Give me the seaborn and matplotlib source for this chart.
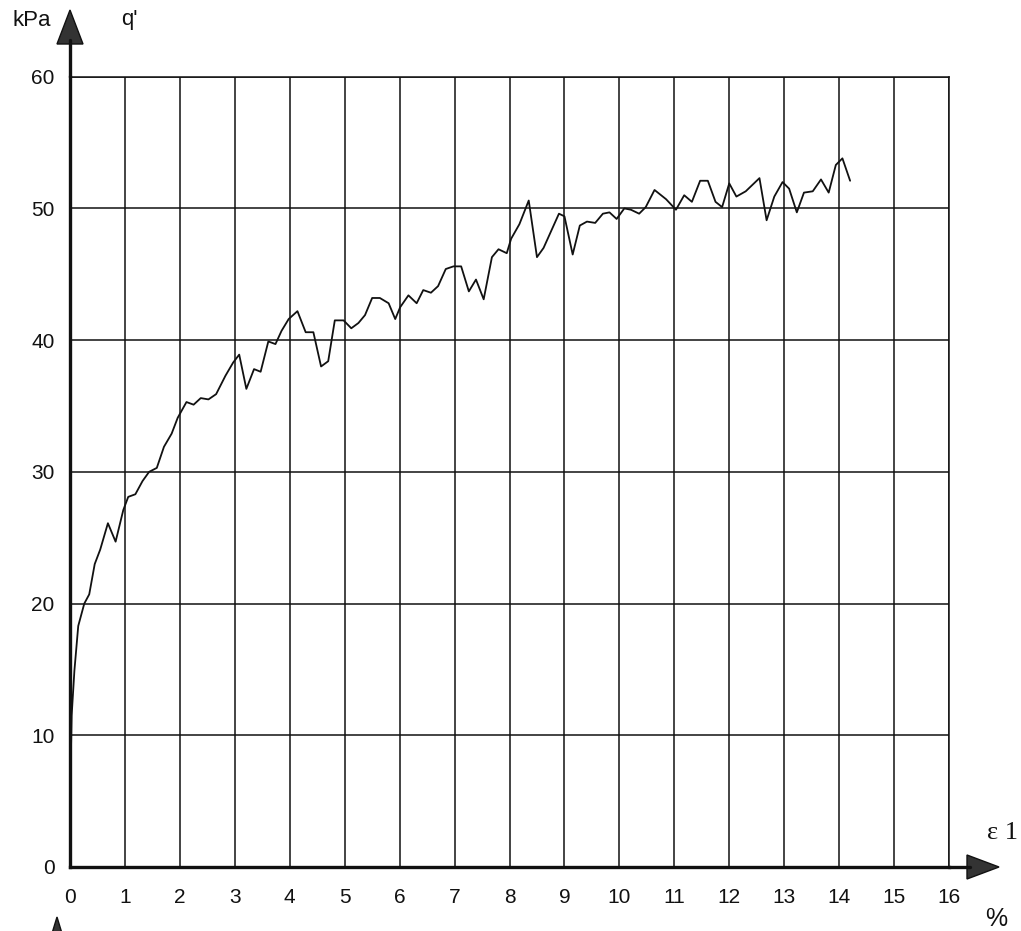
import numpy as np
import pandas as pd
import matplotlib
matplotlib.use('Agg')
import matplotlib.pyplot as plt
from matplotlib.patches import Polygon
import seaborn as sns

# strain (%) and deviator stress q' (kPa)
eps = [0, 0.03, 0.08, 0.15, 0.26, 0.35, 0.45, 0.55, 0.69, 0.83,
       0.97, 1.06, 1.19, 1.32, 1.44, 1.58, 1.71, 1.85, 1.96, 2.12,
       2.25, 2.38, 2.52, 2.66,
       2.83, 2.97, 3.08, 3.21, 3.35, 3.47, 3.61, 3.74, 3.85, 3.98,
       4.14, 4.29, 4.43, 4.57, 4.70, 4.82, 4.98, 5.12, 5.25, 5.37,
       5.50, 5.64, 5.80, 5.92, 6.01, 6.16, 6.31, 6.43, 6.57, 6.70,
       6.84, 6.98, 7.12, 7.26, 7.39, 7.53, 7.68, 7.80, 7.95, 8.03,
       8.18, 8.35, 8.50, 8.62, 8.76, 8.90, 9.00, 9.15, 9.28, 9.41,
       9.56, 9.70, 9.82, 9.95, 10.09, 10.21, 10.36, 10.48, 10.64, 10.85,
       11.03, 11.18, 11.32, 11.47, 11.61, 11.75, 11.87, 12.00, 12.13, 12.30,
       12.55, 12.68, 12.82, 12.97, 13.09, 13.23, 13.36, 13.52, 13.67, 13.81,
       13.94, 14.06, 14.20]
q = [5, 11.5, 14.9, 18.3, 20.0, 20.7, 23.0, 24.1, 26.1, 24.7,
     27.1, 28.1, 28.3, 29.3, 30.0, 30.3, 31.9, 32.9, 34.1, 35.3,
     35.1, 35.6, 35.5, 35.9,
     37.3, 38.3, 38.9, 36.3, 37.8, 37.6, 39.9, 39.7, 40.7, 41.6,
     42.2, 40.6, 40.6, 38.0, 38.4, 41.5, 41.5, 40.9, 41.3, 41.9,
     43.2, 43.2, 42.8, 41.6, 42.5, 43.4, 42.8, 43.8, 43.6, 44.1,
     45.4, 45.6, 45.6, 43.7, 44.6, 43.1, 46.3, 46.9, 46.6, 47.7,
     48.8, 50.6, 46.3, 47.0, 48.3, 49.6, 49.4, 46.5, 48.7, 49.0,
     48.9, 49.6, 49.7, 49.2, 50.0, 49.9, 49.6, 50.1, 51.4, 50.7,
     49.9, 51.0, 50.5, 52.1, 52.1, 50.5, 50.1, 51.9, 50.9, 51.3,
     52.3, 49.1, 50.9, 52.0, 51.5, 49.7, 51.2, 51.3, 52.2, 51.2,
     53.3, 53.8, 52.1]

x_ticks = list(range(0, 17))
y_ticks = list(range(0, 61, 10))

df = pd.DataFrame({'eps': eps, 'q': q})

sns.set_style('white')
plt.rcParams['font.family'] = ['Liberation Sans', 'DejaVu Sans']

W, H = 1021, 931
fig = plt.figure(figsize=(W / 100, H / 100), dpi=100)
x0, x1, y0, y1 = 70, 949, 867, 76.7
ax = fig.add_axes([x0 / W, 1 - y0 / H, (x1 - x0) / W, (y0 - y1) / H])

sns.lineplot(data=df, x='eps', y='q', ax=ax, color='#111111', linewidth=1.3,
             estimator=None, sort=False)

ax.set_xlim(0, 16)
ax.set_ylim(0, 60)
ax.set_xticks(x_ticks)
ax.set_yticks(y_ticks)
ax.grid(True, color='#111111', linewidth=1.1)
ax.tick_params(length=0, labelsize=15, colors='#111111')
ax.tick_params(axis='x', pad=15)
ax.tick_params(axis='y', pad=11)
ax.set_xlabel('')
ax.set_ylabel('')
for s in ['top', 'right']:
    ax.spines[s].set_linewidth(1.1)
    ax.spines[s].set_color('#111111')
for s in ['left', 'bottom']:
    ax.spines[s].set_linewidth(2.4)
    ax.spines[s].set_color('#111111')


def px(xp, yp):
    return (xp / W, 1 - yp / H)


# axis arrows
fig.add_artist(plt.Line2D([px(70, 0)[0]] * 2, [px(0, 77)[1], px(0, 40)[1]],
                          color='#111111', linewidth=2.4))
fig.add_artist(Polygon([px(57, 44), px(83, 44), px(70, 10)], closed=True,
                       facecolor='#333333', edgecolor='#111111', transform=fig.transFigure))
fig.add_artist(plt.Line2D([px(948, 0)[0], px(970, 0)[0]], [px(0, 867)[1]] * 2,
                          color='#111111', linewidth=2.4))
fig.add_artist(Polygon([px(967, 855), px(967, 879), px(999, 867)], closed=True,
                       facecolor='#333333', edgecolor='#111111', transform=fig.transFigure))
fig.add_artist(Polygon([px(50, 940), px(64, 940), px(57, 917)], closed=True,
                       facecolor='#333333', edgecolor='#111111', transform=fig.transFigure))

fig.text(*px(32, 20), 'kPa', fontsize=16, ha='center', va='center', color='#111111')
fig.text(*px(129, 20), "q'", fontsize=16, ha='center', va='center', color='#111111')
fig.text(*px(1002, 833), 'ε 1', fontsize=19, ha='center', va='center', color='#111111',
         family=['Liberation Serif', 'DejaVu Serif'])
fig.text(*px(996, 919), '%', fontsize=18, ha='center', va='center', color='#111111')

fig.savefig('out.png', dpi=100, facecolor='white')
